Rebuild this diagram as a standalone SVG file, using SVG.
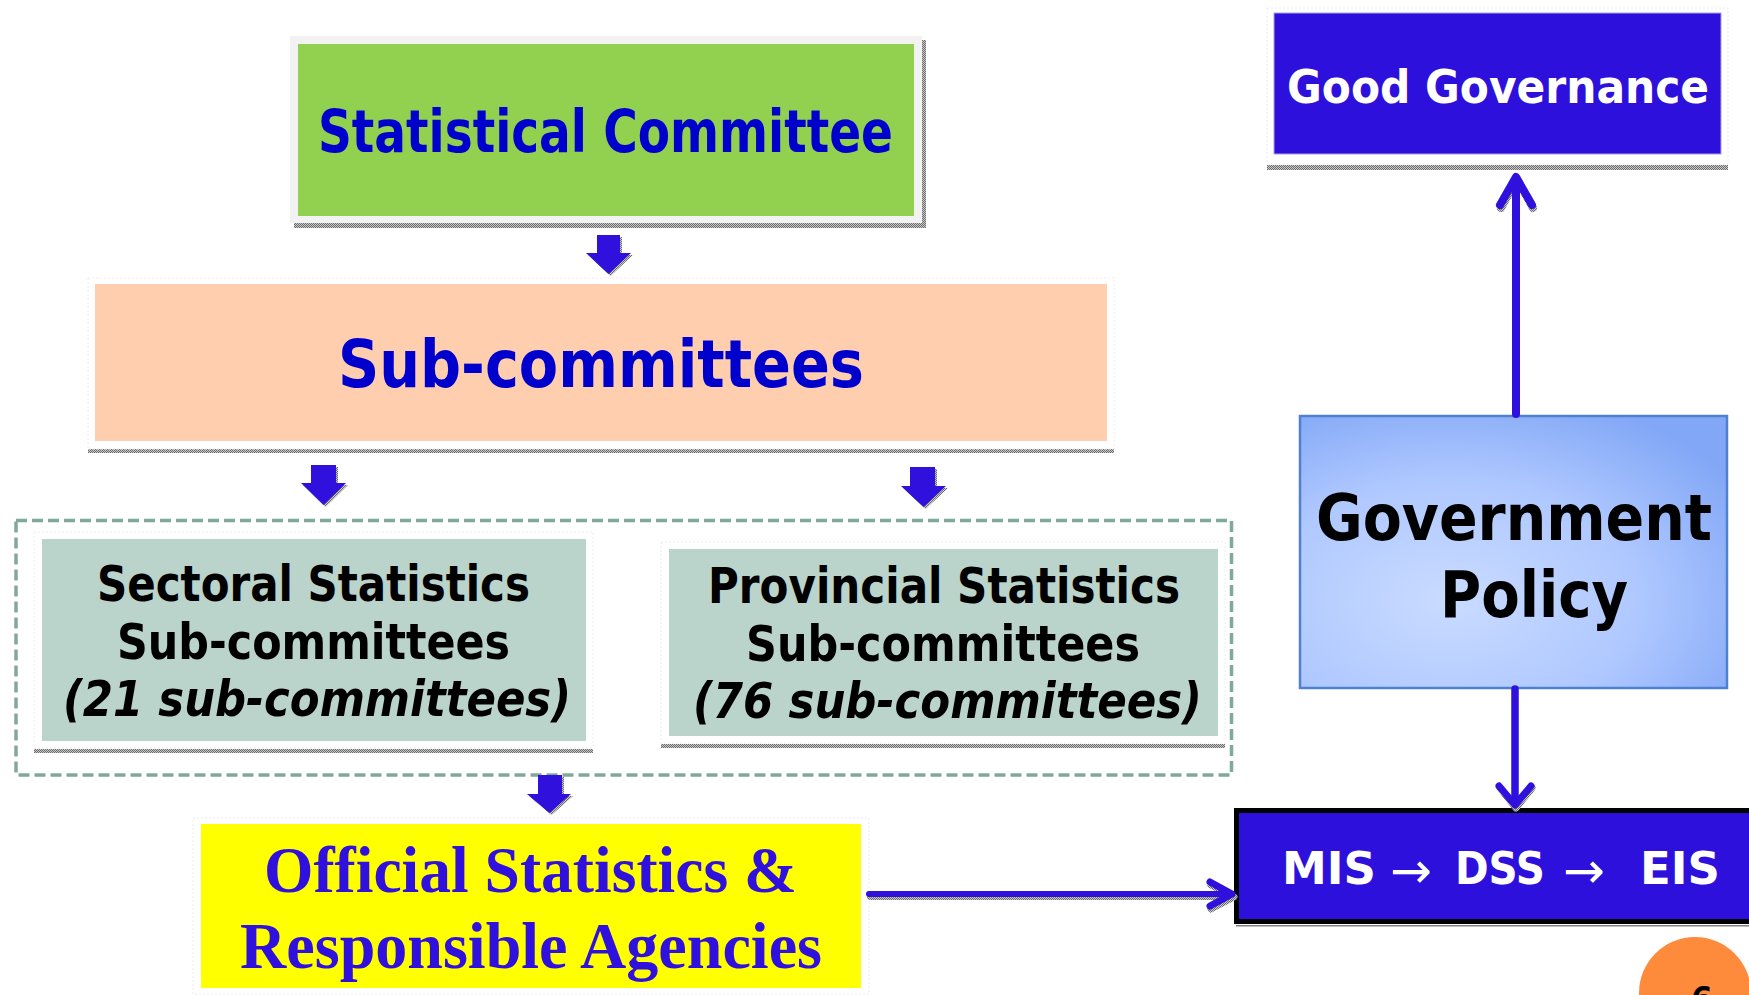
<svg xmlns="http://www.w3.org/2000/svg" width="1749" height="995" viewBox="0 0 1749 995">
<style>
.sans{font-family:"DejaVu Sans Condensed","DejaVu Sans",Verdana,sans-serif;font-weight:bold}
.serif{font-family:"Liberation Serif","Times New Roman",serif;font-weight:bold}
.wide{font-family:"DejaVu Sans",Verdana,sans-serif;font-weight:bold}
.cond{font-family:"DejaVu Sans Condensed","DejaVu Sans",sans-serif;font-weight:bold}
.arr{font-family:"DejaVu Sans",sans-serif;font-weight:normal;font-size:50px}
.frame{fill:#ffffff;stroke:#ececec;stroke-width:1;stroke-dasharray:2 2}
.shadow{fill:url(#hatch)}
.blk{fill:#2F10DD}
.conn{fill:none;stroke:#2F10DD;stroke-linecap:round;stroke-linejoin:round}
.connsh{fill:none;stroke:url(#hatch);stroke-linecap:round;stroke-linejoin:round}
.sub{font-size:49px;fill:#000000}
</style>
<defs>
<pattern id="hatch" width="2" height="2" patternUnits="userSpaceOnUse">
<rect width="2" height="2" fill="#c8c8c8"/>
<rect width="1" height="1" fill="#6e6e6e"/>
<rect x="1" y="1" width="1" height="1" fill="#6e6e6e"/>
</pattern>
<radialGradient id="govgrad" cx="0.35" cy="0.68" r="0.8">
<stop offset="0" stop-color="#C9DBFF"/>
<stop offset="0.55" stop-color="#AFC8FF"/>
<stop offset="1" stop-color="#82A7F6"/>
</radialGradient>
</defs>
<rect width="1749" height="995" fill="#ffffff"/>

<g id="container">
<rect x="16" y="520.5" width="1215.5" height="254.5" fill="none" stroke="#7FAA9B" stroke-width="3.5" stroke-dasharray="11 5"/>
</g>

<g id="statistical-committee">
<rect class="shadow" x="294" y="40" width="632" height="188"/>
<rect x="290" y="36" width="632" height="187" fill="#F2F2F2"/>
<rect x="298" y="44" width="616" height="172" fill="#92D050"/>
<text class="sans" x="605.5" y="152" text-anchor="middle" font-size="58" textLength="575" lengthAdjust="spacingAndGlyphs" fill="#0000CC">Statistical Committee</text>
</g>

<g id="sub-committees">
<rect class="shadow" x="88" y="449" width="1026" height="4"/>
<rect class="frame" x="88" y="278" width="1026" height="171"/>
<rect x="95" y="284" width="1012" height="157" fill="#FFCEAE"/>
<text class="sans" x="601" y="387" text-anchor="middle" font-size="65" textLength="526" lengthAdjust="spacingAndGlyphs" fill="#0000CC">Sub-committees</text>
</g>

<g id="sectoral">
<rect class="shadow" x="34" y="749" width="559" height="4"/>
<rect class="frame" x="34" y="532" width="559" height="216"/>
<rect x="42" y="539" width="544" height="202" fill="#BAD3CB"/>
<text class="sans sub" x="313.5" y="601" text-anchor="middle" textLength="433" lengthAdjust="spacingAndGlyphs">Sectoral Statistics</text>
<text class="sans sub" x="313.5" y="659" text-anchor="middle" textLength="393" lengthAdjust="spacingAndGlyphs">Sub-committees</text>
<text class="sans sub" x="317" y="716" text-anchor="middle" font-style="italic" textLength="508" lengthAdjust="spacingAndGlyphs">(21 sub-committees)</text>
</g>

<g id="provincial">
<rect class="shadow" x="661" y="744" width="564" height="4"/>
<rect class="frame" x="661" y="542" width="564" height="201"/>
<rect x="669" y="549" width="549" height="187" fill="#BAD3CB"/>
<text class="sans sub" x="944" y="603" text-anchor="middle" textLength="472" lengthAdjust="spacingAndGlyphs">Provincial Statistics</text>
<text class="sans sub" x="943" y="661" text-anchor="middle" textLength="394" lengthAdjust="spacingAndGlyphs">Sub-committees</text>
<text class="sans sub" x="947.5" y="718" text-anchor="middle" font-style="italic" textLength="509" lengthAdjust="spacingAndGlyphs">(76 sub-committees)</text>
</g>

<g id="official-statistics">
<rect class="frame" x="193" y="818" width="676" height="176"/>
<rect x="201" y="824" width="660" height="164" fill="#FFFF00"/>
<text class="serif" x="530.5" y="892" text-anchor="middle" font-size="66" textLength="533" lengthAdjust="spacingAndGlyphs" fill="#2F10DD">Official Statistics &amp;</text>
<text class="serif" x="531" y="968" text-anchor="middle" font-size="66" textLength="582" lengthAdjust="spacingAndGlyphs" fill="#2F10DD">Responsible Agencies</text>
</g>

<g id="good-governance">
<rect class="shadow" x="1267" y="165" width="461" height="5"/>
<rect class="frame" x="1267" y="8" width="461" height="156"/>
<rect x="1274" y="13" width="447" height="141" fill="#2E10DD" stroke="#A99DF2" stroke-width="1"/>
<text class="sans" x="1498" y="103" text-anchor="middle" font-size="47" textLength="422" lengthAdjust="spacingAndGlyphs" fill="#ffffff">Good Governance</text>
</g>

<g id="government-policy">
<rect x="1300" y="416" width="427" height="272" fill="url(#govgrad)" stroke="#4F81D0" stroke-width="2.5"/>
<text class="sans" x="1514" y="540" text-anchor="middle" font-size="64" textLength="396" lengthAdjust="spacingAndGlyphs" fill="#000000">Government</text>
<text class="sans" x="1534" y="617" text-anchor="middle" font-size="64" textLength="188" lengthAdjust="spacingAndGlyphs" fill="#000000">Policy</text>
</g>

<g id="mis-dss-eis">
<rect x="1236" y="925" width="520" height="1.5" fill="#808080"/>
<rect x="1236.5" y="810.5" width="520" height="111" fill="#2E10DD" stroke="#000000" stroke-width="5"/>
<text class="wide" y="884" font-size="45" fill="#ffffff" xml:space="preserve"><tspan x="1282" y="884">MIS </tspan><tspan class="arr" x="1390" y="888">→ </tspan><tspan class="cond" x="1455" y="884">DSS </tspan><tspan class="arr" x="1563" y="888">→ </tspan><tspan x="1640" y="884">EIS</tspan></text>
</g>

<g id="page-number">
<circle cx="1695" cy="993" r="56" fill="#FD8B3B"/>
<text class="sans" x="1702" y="1011" text-anchor="middle" font-size="34" fill="#000000">6</text>
</g>

<g id="connectors">
<polygon class="shadow" points="599,237 622,237 622,255 633,255 610.5,276 588,255 599,255"/>
<polygon class="blk" points="597,235 620,235 620,253 631,253 608.5,274 586,253 597,253"/>
<polygon class="shadow" points="313,467 338,467 338,485 348,485 325.5,507 303,485 313,485"/>
<polygon class="blk" points="311,465 336,465 336,483 346,483 323.5,505 301,483 311,483"/>
<polygon class="shadow" points="912,469 937,469 937,488 948,488 925.5,509 903,488 912,488"/>
<polygon class="blk" points="910,467 935,467 935,486 946,486 923.5,507 901,486 910,486"/>
<polygon class="shadow" points="540,777 564,777 564,796 573,796 551.5,815 529,796 540,796"/>
<polygon class="blk" points="538,775 562,775 562,794 571,794 549.5,813 527,794 538,794"/>
<line class="connsh" x1="1516" y1="412" x2="1516" y2="182" stroke-width="8"/>
<polyline class="connsh" points="1501,208 1517,179 1533,208" stroke-width="8"/>
<line class="conn" x1="1516" y1="414" x2="1516" y2="180" stroke-width="8"/>
<polyline class="conn" points="1500,205 1516,177 1532,205" stroke-width="8"/>
<polyline class="connsh" points="1500,788 1516,808 1532,788" stroke-width="7"/>
<line class="conn" x1="1515" y1="689" x2="1515" y2="804" stroke-width="7.5"/>
<polyline class="conn" points="1499,786 1515,805 1531,786" stroke-width="7"/>
<line class="connsh" x1="870" y1="897" x2="1228" y2="897" stroke-width="6"/>
<polyline class="connsh" points="1211,885 1234,897 1211,909" stroke-width="7"/>
<line class="conn" x1="869" y1="894" x2="1229" y2="894" stroke-width="6"/>
<polyline class="conn" points="1210,882 1232,894 1210,906" stroke-width="7"/>
</g>
</svg>
